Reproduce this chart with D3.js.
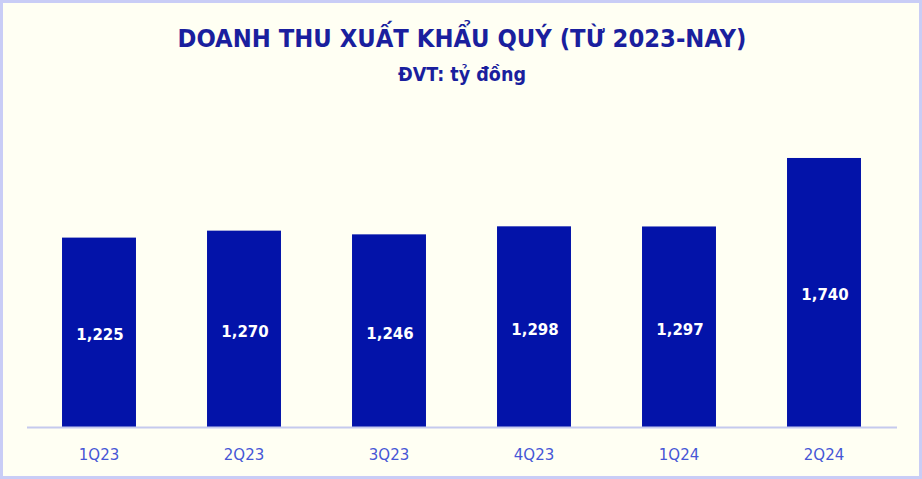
<!DOCTYPE html>
<html>
<head>
<meta charset="utf-8">
<script src="https://cdn.jsdelivr.net/npm/d3@7"></script>
<style>
  html, body { margin: 0; padding: 0; background: #fffff3; }
  svg { display: block; }
</style>
</head>
<body>
<div class="chart"></div>
<script>
const WIDTH = 922;
const HEIGHT = 479;
const QUARTERS = ["1Q23", "2Q23", "3Q23", "4Q23", "1Q24", "2Q24"];
const REVENUE = [1225, 1270, 1246, 1298, 1297, 1740];
const TITLE = "DOANH THU XUẤT KHẨU QUÝ (TỪ 2023-NAY)";
const SUBTITLE = "ĐVT: tỷ đồng";

const data = QUARTERS.map((q, i) => ({ q: q, v: REVENUE[i] }));

const svg = d3.select(".chart").append("svg").attr("width", WIDTH).attr("height", HEIGHT);

// background + frame
svg.append("rect")
  .attr("x", 1.5).attr("y", 1.5)
  .attr("width", WIDTH - 3).attr("height", HEIGHT - 3)
  .attr("fill", "#fffff3")
  .attr("stroke", "#c9cdf6")
  .attr("stroke-width", 3);

// titles
svg.append("text")
  .attr("x", 462).attr("y", 47)
  .attr("text-anchor", "middle")
  .attr("textLength", 569)
  .attr("lengthAdjust", "spacingAndGlyphs")
  .attr("fill", "#1a1f9e")
  .style("font-family", "'DejaVu Sans Condensed', 'DejaVu Sans', sans-serif")
  .style("font-stretch", "condensed")
  .style("font-weight", "bold")
  .style("font-size", "25px")
  .text(TITLE);

svg.append("text")
  .attr("x", 462).attr("y", 81)
  .attr("text-anchor", "middle")
  .attr("textLength", 128)
  .attr("lengthAdjust", "spacingAndGlyphs")
  .attr("fill", "#1a1f9e")
  .style("font-family", "'DejaVu Sans Condensed', 'DejaVu Sans', sans-serif")
  .style("font-stretch", "condensed")
  .style("font-weight", "bold")
  .style("font-size", "20px")
  .text(SUBTITLE);

// scales
const x = d3.scaleBand()
  .domain(QUARTERS)
  .range([26.5, 896.5])
  .paddingInner(0.49)
  .paddingOuter(0.245);

const y = d3.scaleLinear()
  .domain([0, 1800])
  .range([427, 148.7]);

// bars
svg.append("g")
  .selectAll("rect").data(data).enter().append("rect")
  .attr("x", d => x(d.q))
  .attr("y", d => y(d.v))
  .attr("width", x.bandwidth())
  .attr("height", d => y(0) - y(d.v))
  .attr("fill", "#0313a9");

// value labels, centred in each bar
svg.append("g")
  .selectAll("text").data(data).enter().append("text")
  .attr("x", d => x(d.q) + x.bandwidth() / 2 + 1)
  .attr("y", d => (y(d.v) + y(0)) / 2 + 8)
  .attr("text-anchor", "middle")
  .attr("fill", "#ffffff")
  .style("font-family", "'DejaVu Sans', sans-serif")
  .style("font-weight", "bold")
  .style("font-size", "15px")
  .text(d => d3.format(",")(d.v));

// x axis
const xAxis = svg.append("g")
  .attr("transform", `translate(0, ${y(0)})`)
  .call(d3.axisBottom(x).tickSize(0).tickPadding(22));

xAxis.select(".domain").attr("stroke", "#c5caee").attr("stroke-width", 2);
xAxis.selectAll("text")
  .attr("fill", "#4656d6")
  .style("font-family", "'DejaVu Sans', sans-serif")
  .style("font-size", "15px");
</script>
</body>
</html>
